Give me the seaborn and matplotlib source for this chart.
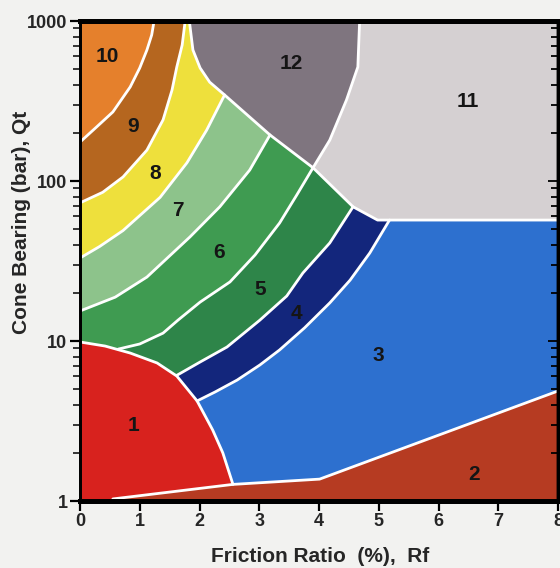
import matplotlib
matplotlib.use("Agg")
import matplotlib.pyplot as plt
import matplotlib.ticker as mticker
import seaborn as sns
import pandas as pd

# axis ranges: friction ratio Rf (%) and cone bearing qt (bar)
rf_lim = [0, 8]
qt_lim = [1, 1000]

# zone boundaries, (Rf, qt) pairs
arc_10_9 = [(1.24, 1000), (1.20, 818), (1.12, 659), (1.00, 509), (0.84, 387),
            (0.55, 270), (0.28, 218), (0.0, 175)]
arc_9_8 = [(1.76, 1000), (1.71, 708), (1.62, 516), (1.54, 370), (1.39, 241),
           (1.12, 156), (0.72, 106), (0.38, 85), (0.0, 73)]
arc_8_7 = [(2.42, 345), (2.12, 208), (1.79, 130), (1.34, 79), (0.72, 49),
           (0.33, 39), (0.0, 33)]
arc_7_6 = [(3.18, 194), (2.84, 117), (2.34, 69), (1.84, 44.7), (1.12, 25.1),
           (0.59, 18.8), (0.0, 15.4)]
arc_6_5 = [(3.90, 121), (3.63, 82), (3.34, 54.6), (2.93, 34.5), (2.51, 23.4),
           (2.01, 17.5), (1.64, 13.5), (1.39, 11.2), (1.00, 9.58), (0.64, 8.9)]
arc_5_4 = [(4.57, 69), (4.18, 41), (3.73, 26.6), (3.46, 19.1), (3.01, 13.5),
           (2.46, 9.17), (2.01, 7.39), (1.62, 6.1)]
arc_4_3 = [(5.18, 57), (4.85, 35.5), (4.52, 24), (4.18, 17.3), (3.76, 12.1),
           (3.34, 8.79), (3.01, 7.08), (2.63, 5.70), (2.26, 4.80), (1.96, 4.22)]
# left side of zone 12 then the diagonal and the flat top of zone 3
diag = [(1.83, 1000), (1.89, 659), (2.01, 509), (2.17, 415), (2.42, 345),
        (3.18, 194), (3.90, 121), (4.57, 69), (4.98, 57), (8.0, 57)]
edge_12_11 = [(4.68, 1000), (4.65, 516), (4.46, 321), (4.18, 180), (3.90, 121)]
edge_1 = [(0.0, 9.86), (0.42, 9.3), (0.84, 8.41), (1.29, 7.29), (1.62, 6.04),
          (1.96, 4.22), (2.22, 2.78), (2.39, 2.0), (2.56, 1.27)]
edge_2 = [(0.55, 1.03), (2.56, 1.27), (4.01, 1.37), (8.0, 4.87)]

zones = ['1', '2', '3', '4', '5', '6', '7', '8', '9', '10', '11', '12']
zone_rf = [0.90, 6.60, 5.00, 3.63, 3.01, 2.32, 1.64, 1.25, 0.89, 0.45, 6.49, 3.53]
zone_qt = [2.98, 1.47, 8.07, 14.9, 21.0, 35.5, 65.0, 112, 218, 604, 312, 546]
zone_colors = {'1': '#D8221E', '2': '#B63B22', '3': '#2D70CF', '4': '#13267C',
               '5': '#2E8549', '6': '#3F9B51', '7': '#8DC38B', '8': '#EEE03C',
               '9': '#B5661F', '10': '#E5802C', '11': '#D5D0D2', '12': '#7F757F'}

sns.set_style("ticks")
plt.rcParams['font.family'] = ['Liberation Sans Narrow', 'Liberation Sans', 'DejaVu Sans']
plt.rcParams['font.weight'] = 'bold'

fig = plt.figure(figsize=(5.6, 5.68), dpi=100, facecolor='#F2F2F0')
ax = fig.add_axes([80 / 560, 67 / 568, 478 / 560, 480 / 568])
ax.set_yscale('log')
ax.set_xlim(rf_lim)
ax.set_ylim(qt_lim)


def fill(points, color):
    xs, ys = zip(*points)
    ax.fill(xs, ys, color=color, lw=0, zorder=1)


def band(arc):
    # area on the upper-left side of an arc
    return arc + [(rf_lim[0], qt_lim[0]), (rf_lim[0], qt_lim[1]), (arc[0][0], qt_lim[1])]


fill([(rf_lim[0], qt_lim[0]), (rf_lim[1], qt_lim[0]),
      (rf_lim[1], qt_lim[1]), (rf_lim[0], qt_lim[1])], zone_colors['3'])
fill(band(arc_4_3), zone_colors['4'])
fill(band(arc_5_4), zone_colors['5'])
fill(band(arc_6_5), zone_colors['6'])
fill(band(arc_7_6), zone_colors['7'])
fill(band(arc_8_7), zone_colors['8'])
fill(band(arc_9_8), zone_colors['9'])
fill(band(arc_10_9), zone_colors['10'])
fill(diag[:7] + edge_12_11[::-1], zone_colors['12'])
fill(edge_12_11 + diag[6:] + [(rf_lim[1], qt_lim[1])], zone_colors['11'])
fill([(rf_lim[0], qt_lim[0])] + edge_1 + [(edge_1[-1][0], qt_lim[0])], zone_colors['1'])
fill(edge_2 + [(rf_lim[1], qt_lim[0]), (edge_2[0][0], qt_lim[0])], zone_colors['2'])

# white zone borders
names = ['10/9', '9/8', '8/7', '7/6', '6/5', '5/4', '4/3', 'diag', '12/11', '1', '2']
lines = [arc_10_9, arc_9_8, arc_8_7, arc_7_6, arc_6_5, arc_5_4, arc_4_3,
         diag, edge_12_11, edge_1, edge_2]
rows = []
for n, pts in zip(names, lines):
    for i, (r, q) in enumerate(pts):
        rows.append({'line': n, 'order': i, 'rf': r, 'qt': q})
bdf = pd.DataFrame(rows)
sns.lineplot(data=bdf, x='rf', y='qt', units='line', estimator=None, sort=False,
             color='white', lw=2.0, legend=False, ax=ax, zorder=2)

for z, r, q in zip(zones, zone_rf, zone_qt):
    ax.text(r, q, z, ha='center', va='center', fontsize=15, fontweight='bold',
            color='#151515', zorder=3)

ax.set_xlabel('')
ax.set_ylabel('')
ax.set_xticks(range(0, 9))
ax.set_xticklabels([str(i) for i in range(0, 9)])
ax.set_yticks([1, 10, 100, 1000])
ax.set_yticklabels(['1', '10', '100', '1000'])
ax.yaxis.set_minor_locator(mticker.LogLocator(subs=range(2, 10)))
ax.yaxis.set_minor_formatter(mticker.NullFormatter())
ax.tick_params(axis='both', which='major', labelsize=13, length=7, width=1.6,
               direction='out', pad=2, color='black')
ax.tick_params(axis='y', which='minor', length=5, width=1.3, direction='out')
ax.tick_params(axis='x', which='minor', length=0)

ax2 = ax.twinx()
ax2.set_yscale('log')
ax2.set_ylim(qt_lim)
ax2.yaxis.set_minor_locator(mticker.LogLocator(subs=range(2, 10)))
ax2.tick_params(axis='y', which='both', direction='in', labelright=False,
                width=1.3, color='black')
ax2.tick_params(axis='y', which='major', length=7)
ax2.tick_params(axis='y', which='minor', length=5)

for a in (ax, ax2):
    a.spines['top'].set_linewidth(3.5)
    a.spines['bottom'].set_linewidth(3.5)
    a.spines['left'].set_linewidth(2.0)
    a.spines['right'].set_linewidth(2.5)
    for s in a.spines.values():
        s.set_color('black')
        s.set_zorder(5)

fig.text(320 / 560, 1 - 556 / 568, 'Friction Ratio  (%),  Rf', ha='center', va='center',
         fontsize=15, fontweight='bold')
fig.text(22 / 560, 1 - 222 / 568, 'Cone Bearing (bar), Qt', ha='center', va='center',
         rotation=90, fontsize=15, fontweight='bold')

fig.savefig('out.png', dpi=100, facecolor=fig.get_facecolor())
